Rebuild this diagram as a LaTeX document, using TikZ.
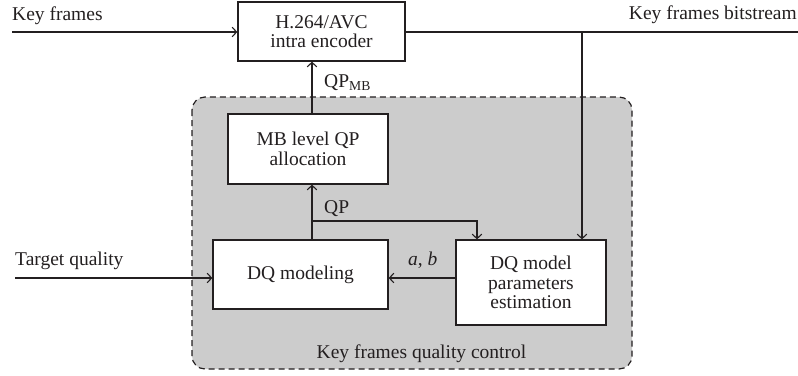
\documentclass[tikz,border=0pt]{standalone}
\usepackage{fontspec}
\setmainfont{Liberation Serif}
\usetikzlibrary{arrows.meta}
\definecolor{ink}{HTML}{231F20}
\definecolor{panel}{HTML}{CCCCCC}
\begin{document}
\begin{tikzpicture}[x=1pt,y=-1pt,
  every node/.style={font=\fontsize{19.5}{19.5}\selectfont, text=ink},
  blockbox/.style={draw=ink, line width=1.2pt, fill=white, align=center, inner sep=0pt},
  conn/.style={draw=ink, line width=1.2pt},
  arr/.style={conn, -{Straight Barb[length=4.5pt,width=9.5pt,line width=1.1pt]}},
  lbl/.style={inner sep=0pt, anchor=base west}]
\useasboundingbox (0,0) rectangle (798,375);
% control region
\draw[ink, fill=panel, line width=1.2pt, dash pattern=on 6pt off 4pt, rounded corners=13pt]
  (192,97) rectangle (632,369);
% blocks
\node[blockbox, minimum width=167pt, minimum height=59pt] (enc) at (321.5,31.5) {H.264/AVC\\intra encoder};
\node[blockbox, minimum width=160pt, minimum height=70pt] (mb) at (308,149) {MB level QP\\allocation};
\node[blockbox, minimum width=175pt, minimum height=69pt] (dq) at (300.5,274.5) {DQ modeling};
\node[blockbox, minimum width=150pt, minimum height=85pt] (est) at (531,282.5) {DQ model\\parameters\\estimation};
% coordinates
\coordinate (kf) at (12,32);
\coordinate (out) at (798,32);
\coordinate (br) at (582,32);
\coordinate (c1) at (312,0);
\coordinate (qpj) at (312,221);
\coordinate (qpr) at (477,221);
\coordinate (tq) at (15,278);
\coordinate (abr) at (0,278);
% connectors
\draw[arr] (kf) -- (kf -| enc.west);
\draw[conn] (out -| enc.east) -- (out);
\draw[arr] (br) -- (br |- est.north);
\draw[arr] (c1 |- mb.north) -- (c1 |- enc.south);
\draw[arr] (c1 |- dq.north) -- (c1 |- mb.south);
\draw[arr] (qpj) -- (qpr) -- (qpr |- est.north);
\draw[arr] (tq) -- (tq -| dq.west);
\draw[arr] (abr -| est.west) -- (abr -| dq.east);
% labels
\node[lbl] (l1) at (12,20) {Key frames};
\node[lbl, anchor=base east] (l2) at (797,19) {Key frames bitstream};
\node[lbl] (l3) at (324,87) {QP\textsubscript{MB}};
\node[lbl] (l4) at (324,213) {QP};
\node[lbl] (l5) at (15,265) {Target quality};
\node[lbl] (l6) at (408,265) {\textit{a}, \textit{b}};
\node[inner sep=0pt, anchor=base] (l7) at (421.5,358) {Key frames quality control};
\end{tikzpicture}
\end{document}
